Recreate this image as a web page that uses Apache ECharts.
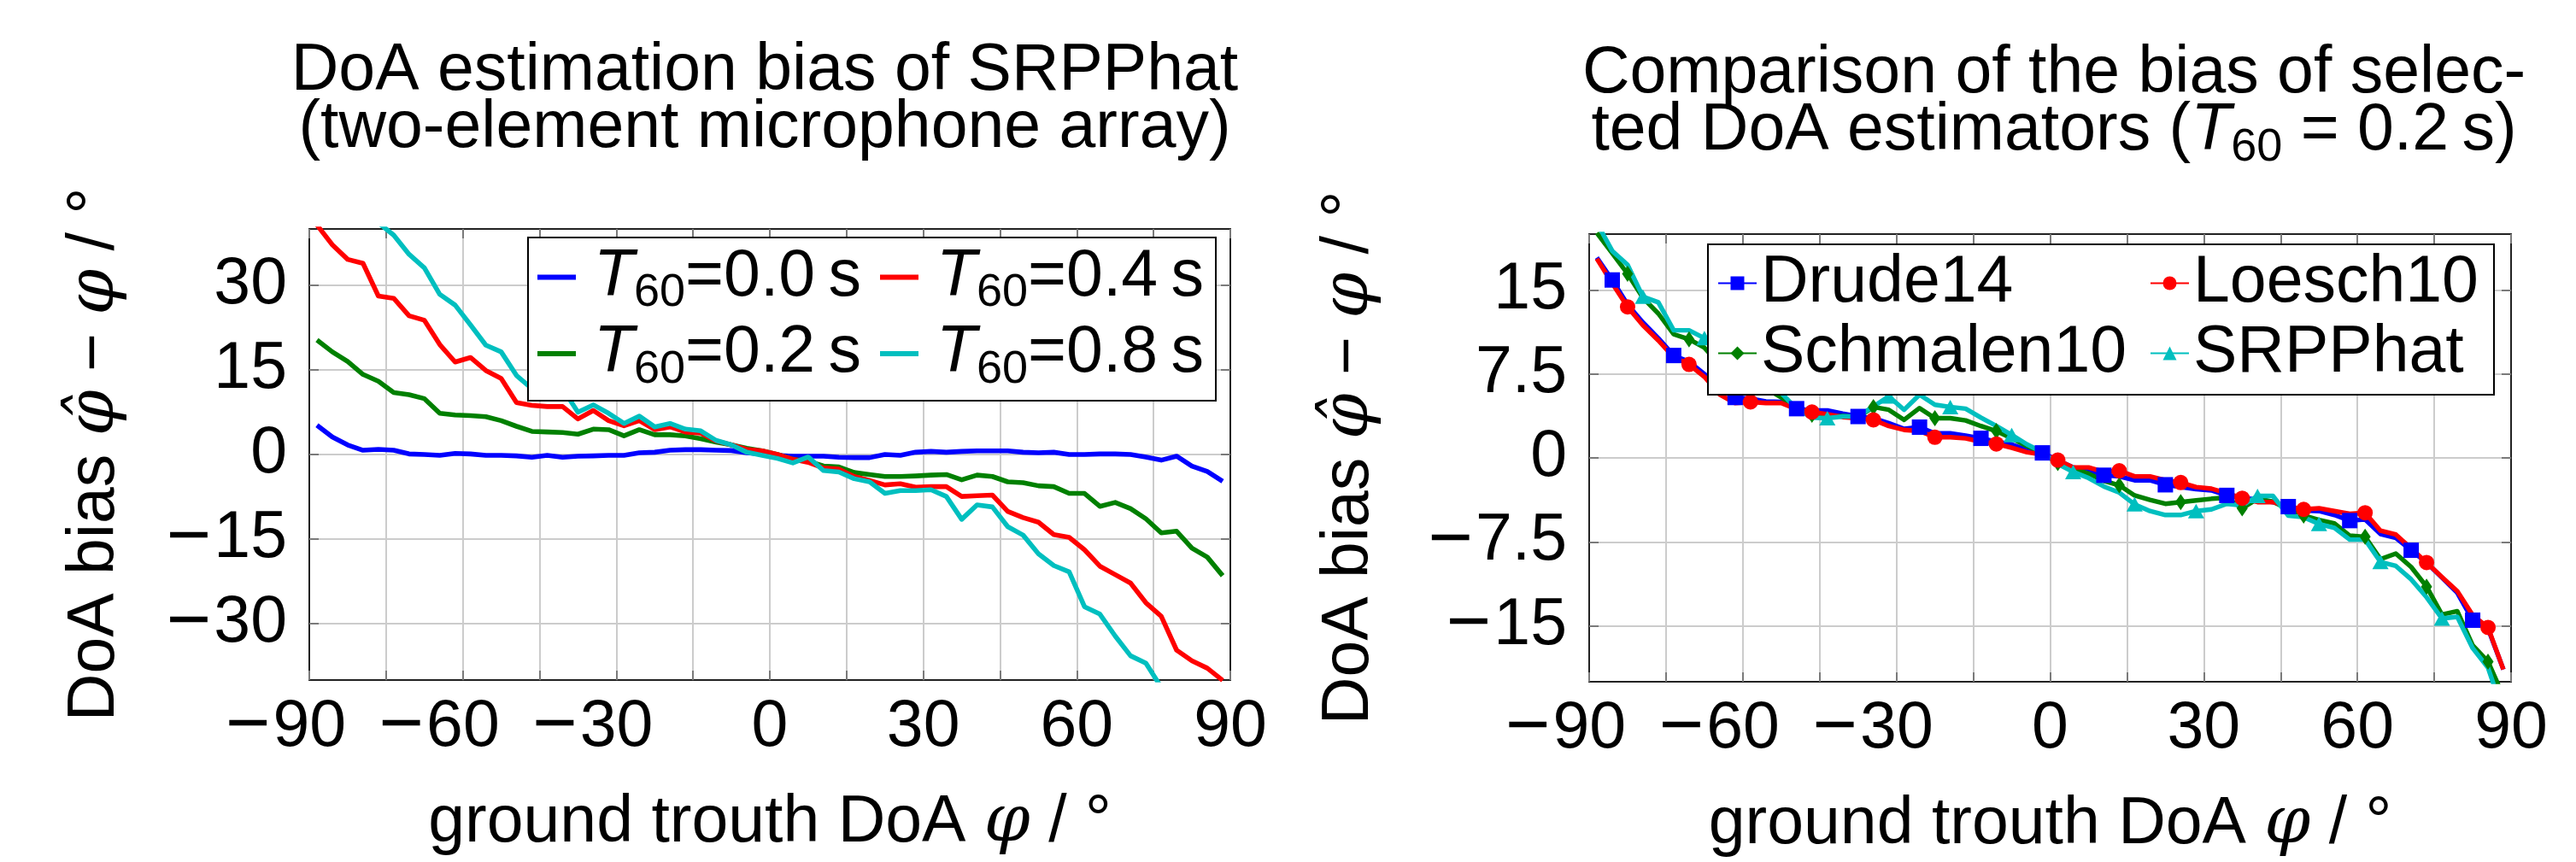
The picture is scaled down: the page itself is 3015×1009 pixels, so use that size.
<!DOCTYPE html>
<html>
<head>
<meta charset="utf-8">
<title>DoA estimation bias</title>
<script src="https://cdn.jsdelivr.net/npm/echarts@6/dist/echarts.min.js"></script>
<style>
html, body { margin: 0; padding: 0; background: #fff; }
#chart { width: 3015px; height: 1009px; }
</style>
</head>
<body>
<div id="chart"></div>
<script>
// ground truth DoA (deg), same grid for all curves
var doa = [-88.5, -85.5, -82.5, -79.5, -76.5, -73.5, -70.5, -67.5, -64.5, -61.5,
  -58.5, -55.5, -52.5, -49.5, -46.5, -43.5, -40.5, -37.5, -34.5, -31.5,
  -28.5, -25.5, -22.5, -19.5, -16.5, -13.5, -10.5, -7.5, -4.5, -1.5,
  1.5, 4.5, 7.5, 10.5, 13.5, 16.5, 19.5, 22.5, 25.5, 28.5,
  31.5, 34.5, 37.5, 40.5, 43.5, 46.5, 49.5, 52.5, 55.5, 58.5,
  61.5, 64.5, 67.5, 70.5, 73.5, 76.5, 79.5, 82.5, 85.5, 88.5];

// left plot: SRPPhat bias for different T60
var t60_00 = [5.2, 3.1, 1.7, 0.75, 0.9, 0.75, 0.1, 0, -0.15, 0.2,
  0.1, -0.15, -0.15, -0.25, -0.5, -0.15, -0.5, -0.3, -0.25, -0.15,
  -0.15, 0.3, 0.4, 0.75, 0.85, 0.85, 0.75, 0.7, 0.3, 0.1,
  -0.15, -0.3, -0.3, -0.3, -0.5, -0.55, -0.55, 0, -0.15, 0.4,
  0.55, 0.4, 0.55, 0.65, 0.65, 0.65, 0.4, 0.3, 0.4, 0,
  0, 0.1, 0.1, 0, -0.45, -1.0, -0.3, -2.05, -3.0, -4.75];
var t60_02 = [20.3, 18.2, 16.5, 14.2, 13.0, 11.0, 10.6, 9.9, 7.3, 7.0,
  6.9, 6.7, 6.0, 5.0, 4.1, 4.0, 3.9, 3.6, 4.5, 4.4,
  3.3, 4.4, 3.5, 3.5, 3.3, 2.8, 2.2, 1.7, 1.1, 0.65,
  0, -0.85, -1.2, -2.05, -2.2, -3.2, -3.55, -3.9, -3.9, -3.8,
  -3.65, -3.55, -4.5, -3.65, -3.9, -4.85, -5.0, -5.55, -5.7, -6.9,
  -6.9, -9.2, -8.5, -9.6, -11.4, -13.9, -13.6, -16.6, -18.2, -21.5];
var t60_04 = [40.7, 37.2, 34.6, 33.9, 28.1, 27.7, 24.6, 23.8, 19.5, 16.4,
  17.2, 14.9, 13.5, 9.2, 8.7, 8.5, 8.5, 6.3, 7.8, 6.0,
  5.1, 6.0, 4.4, 4.9, 4.0, 3.8, 2.4, 1.7, 0.9, 0.65,
  0, -0.85, -1.4, -2.4, -2.6, -3.9, -4.6, -5.4, -5.2, -5.8,
  -5.7, -5.7, -7.45, -7.3, -7.2, -10.1, -11.2, -12.0, -14.2, -14.7,
  -16.9, -19.8, -21.3, -22.8, -26.3, -28.7, -34.7, -36.6, -37.9, -40.05];
var t60_08 = [55, 51.5, 48, 44.5, 41.1, 38.9, 35.5, 33.1, 28.4, 26.5,
  23.0, 19.4, 18.2, 14.0, 11.7, 11.4, 11.7, 7.5, 8.8, 7.3,
  5.5, 6.8, 4.9, 5.5, 4.5, 4.2, 2.5, 1.7, 0.4, -0.15,
  -0.7, -1.5, -0.45, -2.85, -3.1, -4.3, -4.85, -6.9, -6.4, -6.4,
  -6.25, -7.45, -11.5, -8.95, -9.3, -12.8, -14.3, -17.6, -19.7, -20.8,
  -27.0, -28.3, -32.2, -35.7, -37.0, -41.3, -45, -48.5, -52, -55];

// right plot: estimators at T60 = 0.2 s
var drude14 = [17.9, 15.9, 13.7, 12.1, 10.7, 9.15, 8.6, 7.5, 6.1, 5.4,
  5.3, 5.05, 5.0, 4.4, 4.25, 4.25, 3.95, 3.7, 3.55, 3.1,
  2.6, 2.75, 2.2, 2.2, 2.0, 1.75, 1.45, 1.2, 0.7, 0.45,
  -0.2, -0.85, -1.1, -1.55, -1.65, -2.0, -2.0, -2.4, -2.6, -2.8,
  -2.9, -3.35, -3.6, -3.7, -3.95, -4.35, -4.7, -4.75, -5.1, -5.6,
  -5.5, -6.8, -7.15, -8.25, -9.35, -10.7, -12.05, -14.5, -15.25, -18.9];
var loesch10 = [17.8, 15.6, 13.5, 11.85, 10.5, 9.0, 8.35, 7.25, 5.65, 4.9,
  5.0, 4.9, 4.9, 4.35, 4.1, 3.9, 3.65, 3.55, 3.4, 2.85,
  2.5, 2.4, 1.85, 1.85, 1.75, 1.45, 1.25, 0.9, 0.5, 0.3,
  -0.2, -0.85, -0.85, -1.25, -1.15, -1.65, -1.65, -2.0, -2.2, -2.6,
  -2.75, -3.15, -3.6, -3.95, -3.95, -4.35, -4.6, -4.5, -4.75, -5.0,
  -4.9, -6.5, -6.85, -8.1, -9.35, -10.65, -11.9, -14.05, -15.15, -18.9];
var schmalen10 = [20.1, 18.3, 16.45, 14.3, 12.9, 11.05, 10.6, 9.85, 8.3, 7.2,
  6.55, 6.2, 5.4, 4.55, 3.85, 3.7, 3.75, 3.65, 4.55, 4.3,
  3.4, 4.45, 3.55, 3.55, 3.35, 2.85, 2.4, 1.75, 1.05, 0.5,
  -0.45, -0.95, -1.4, -2.05, -2.45, -3.35, -3.75, -4.1, -3.95, -3.8,
  -3.65, -3.55, -4.5, -3.65, -3.9, -4.6, -5.15, -5.55, -5.85, -6.95,
  -7.05, -9.05, -8.55, -9.75, -11.5, -14.0, -13.7, -16.75, -18.2, -21.3];
var srpphat = [21.0, 18.5, 17.25, 14.4, 13.9, 11.4, 11.4, 10.7, 8.9, 7.6,
  6.6, 6.45, 5.8, 4.4, 3.6, 3.55, 3.7, 3.7, 4.6, 5.5,
  4.3, 5.65, 4.75, 4.55, 4.4, 3.6, 2.85, 2.05, 1.2, 0.5,
  -0.55, -1.25, -1.8, -2.55, -3.1, -4.15, -4.75, -5.1, -5.1, -4.75,
  -4.6, -4.1, -4.25, -3.4, -3.4, -5.15, -5.3, -5.9, -6.25, -7.3,
  -7.3, -9.3, -9.65, -10.85, -12.45, -14.35, -14.2, -17.0, -18.75, -22.8];

// ticks
var yTicksLeft = [-30, -15, 0, 15, 30];
var yTicksRight = [-15, -7.5, 0, 7.5, 15];

var FONT = '"Liberation Sans", Arial, sans-serif';
var SERIF = '"DejaVu Serif", "Liberation Serif", serif';
var FS = 77;

var rich = {
  m: { fontSize: 90, fontFamily: FONT, lineHeight: 77, padding: [0, 3, 0, 0] },
  p: { fontSize: FS, fontFamily: FONT, lineHeight: 77, width: 55 },
  n: { fontSize: FS, fontFamily: FONT, lineHeight: 72, color: '#000' },
  it: { fontSize: FS, fontFamily: FONT, fontStyle: 'italic', lineHeight: 72, color: '#000' },
  itp: { fontSize: FS, fontFamily: FONT, fontStyle: 'italic', lineHeight: 72, color: '#000', padding: [0, 0, 0, 16] },
  // subscript: pushed down from the line top
  sub: { fontSize: 54, fontFamily: FONT, lineHeight: 34, verticalAlign: 'top', padding: [28, 0, 0, 0], color: '#000' },
  ph: { fontSize: FS, fontFamily: SERIF, fontStyle: 'italic', lineHeight: 77, color: '#000' }
};

function pairs(ys) {
  return doa.map(function (x, i) { return [x, ys[i]]; });
}

function xLabel(v) {
  if (v % 30 !== 0) return '';
  if (v < 0) return '{m|\u2212}' + Math.abs(v) + '{p|\u00a0}';
  return String(v);
}
function yLabel(v) {
  if (v < 0) return '{m|\u2212}' + Math.abs(v);
  return String(v);
}

var lineCol = '#222';
var tickCol = '#7a7a7a';
var gridCol = '#cccccc';

function bottomX(gi) {
  return {
    type: 'value', gridIndex: gi, min: -90, max: 90, interval: 15, position: 'bottom',
    axisLine: { show: true, onZero: false, lineStyle: { color: lineCol, width: 2 } },
    axisTick: { show: true, inside: true, length: 11, lineStyle: { color: tickCol, width: 2 } },
    axisLabel: { margin: 17, fontSize: FS, lineHeight: 77, fontFamily: FONT, color: '#000', formatter: xLabel, rich: rich },
    splitLine: { show: true, lineStyle: { color: gridCol, width: 2 } },
    name: '{n|ground trouth DoA }{ph|\u03c6}{n| / \u00b0}',
    nameLocation: 'middle', nameGap: 129,
    nameTextStyle: { fontSize: FS, lineHeight: 77, fontFamily: FONT, color: '#000', rich: rich }
  };
}
function topX(gi) {
  return {
    type: 'value', gridIndex: gi, min: -90, max: 90, interval: 15, position: 'top',
    axisLine: { show: true, onZero: false, lineStyle: { color: lineCol, width: 2 } },
    axisTick: { show: true, inside: true, length: 11, lineStyle: { color: tickCol, width: 2 } },
    axisLabel: { show: false },
    splitLine: { show: false }
  };
}
function leftY(gi, lo, hi, ticks, gap) {
  return {
    type: 'value', gridIndex: gi, min: lo, max: hi, position: 'left',
    axisLine: { show: true, onZero: false, lineStyle: { color: lineCol, width: 2 } },
    axisTick: { show: true, inside: true, length: 11, customValues: ticks, lineStyle: { color: tickCol, width: 2 } },
    axisLabel: { margin: 26, fontSize: FS, lineHeight: 77, fontFamily: FONT, color: '#000', customValues: ticks, formatter: yLabel, rich: rich },
    splitLine: { show: true, lineStyle: { color: gridCol, width: 2 } },
    name: '{n|DoA bias }{ph|\u03c6\u0302}{n| \u2212 }{ph|\u03c6}{n| / \u00b0}',
    nameLocation: 'middle', nameGap: gap, nameRotate: 90,
    nameTextStyle: { fontSize: FS, lineHeight: 77, fontFamily: FONT, color: '#000', rich: rich }
  };
}
function rightY(gi, lo, hi, ticks) {
  return {
    type: 'value', gridIndex: gi, min: lo, max: hi, position: 'right',
    axisLine: { show: true, onZero: false, lineStyle: { color: lineCol, width: 2 } },
    axisTick: { show: true, inside: true, length: 11, customValues: ticks, lineStyle: { color: tickCol, width: 2 } },
    axisLabel: { show: false },
    splitLine: { show: false }
  };
}

function plainLine(name, ys, color) {
  return {
    type: 'line', name: name, xAxisIndex: 0, yAxisIndex: 0, data: pairs(ys),
    symbol: 'none', color: color, lineStyle: { width: 5.6, join: 'round' }, animation: false
  };
}
// markers only on every 4th point, offset per estimator
function markedLine(name, ys, color, symbol, size, offset) {
  return {
    type: 'line', name: name, xAxisIndex: 2, yAxisIndex: 2, data: pairs(ys),
    color: color, symbol: symbol, showSymbol: true, showAllSymbol: true,
    symbolSize: function (v, p) { return p.dataIndex % 4 === offset ? size : 0; },
    lineStyle: { width: 5.4, join: 'round' }, itemStyle: { color: color, borderWidth: 0 },
    animation: false
  };
}

var chart = echarts.init(document.getElementById('chart'), null, { renderer: 'canvas' });

var option = {
  backgroundColor: '#fff',
  animation: false,
  grid: [
    { left: 362, top: 268, width: 1078, height: 528 },
    { left: 1860, top: 274, width: 1079, height: 528 }
  ],
  xAxis: [bottomX(0), topX(0), bottomX(1), topX(1)],
  yAxis: [
    leftY(0, -40, 40, yTicksLeft, 212), rightY(0, -40, 40, yTicksLeft),
    leftY(1, -20, 20, yTicksRight, 242), rightY(1, -20, 20, yTicksRight)
  ],
  legend: [
    {
      left: 618, top: 278, width: 860, orient: 'horizontal',
      itemWidth: 45, itemHeight: 6, itemGap: 5, icon: 'rect',
      padding: [8, 14, 9, 11], borderColor: '#000', borderWidth: 2, backgroundColor: '#fff',
      selectedMode: false,
      data: [
        { name: '0.0', textStyle: { width: 346 } }, { name: '0.4', textStyle: { width: 325 } },
        { name: '0.2', textStyle: { width: 346 } }, { name: '0.8', textStyle: { width: 325 } }
      ],
      formatter: function (name) { return '{itp|T}{sub|60}{n|=' + name + '\u2009s}'; },
      textStyle: { fontSize: FS, lineHeight: 72, fontFamily: FONT, color: '#000', rich: rich }
    },
    {
      left: 1999, top: 286, width: 950, orient: 'horizontal',
      itemWidth: 45, itemHeight: 20, itemGap: 5,
      padding: [7, 18, 10, 11], borderColor: '#000', borderWidth: 2, backgroundColor: '#fff',
      selectedMode: false,
      data: [
        { name: 'Drude14', textStyle: { width: 450 } }, { name: 'Loesch10', textStyle: { width: 334 } },
        { name: 'Schmalen10', textStyle: { width: 450 } }, { name: 'SRPPhat', textStyle: { width: 334 } }
      ],
      textStyle: { fontSize: FS, lineHeight: 72, fontFamily: FONT, color: '#000' }
    }
  ],
  graphic: [
    { type: 'text', x: 895, y: 84, style: { text: 'DoA estimation bias of SRPPhat', fontSize: FS, fontFamily: FONT, fill: '#000', align: 'center', verticalAlign: 'middle' } },
    { type: 'text', x: 895, y: 151, style: { text: '(two-element microphone array)', fontSize: FS, fontFamily: FONT, fill: '#000', align: 'center', verticalAlign: 'middle' } },
    { type: 'text', x: 2404, y: 87, style: { text: 'Comparison of the bias of selec-', fontSize: FS, fontFamily: FONT, fill: '#000', align: 'center', verticalAlign: 'middle' } },
    { type: 'text', x: 2404, y: 154, style: { text: '{n|ted DoA estimators (}{it|T}{sub|60}{n| = 0.2\u2009s)}', fontSize: FS, fontFamily: FONT, fill: '#000', align: 'center', verticalAlign: 'middle', rich: rich } }
  ],
  series: [
    plainLine('0.0', t60_00, '#0000ff'),
    plainLine('0.2', t60_02, '#008000'),
    plainLine('0.4', t60_04, '#ff0000'),
    plainLine('0.8', t60_08, '#00bfbf'),
    markedLine('Drude14', drude14, '#0000ff', 'rect', 18, 1),
    markedLine('Schmalen10', schmalen10, '#008000', 'diamond', [13, 19], 2),
    markedLine('Loesch10', loesch10, '#ff0000', 'circle', 18, 2),
    markedLine('SRPPhat', srpphat, '#00bfbf', 'triangle', [19, 17], 3)
  ]
};

chart.setOption(option);
</script>
</body>
</html>
